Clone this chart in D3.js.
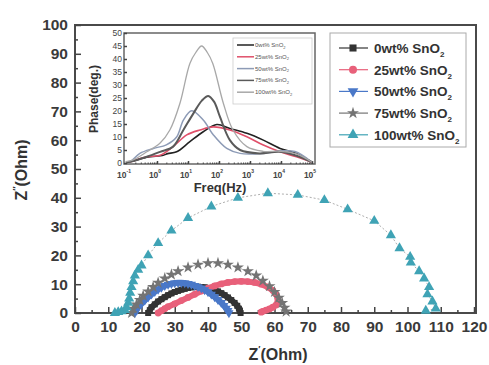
<!DOCTYPE html>
<html>
<head>
<meta charset="utf-8">
<script src="https://d3js.org/d3.v7.min.js"></script>
<style>
    body { margin: 0; background: #fff; }
    svg { display: block; font-family: "Liberation Sans", Arial, sans-serif; }
</style>
</head>
<body>
<script>

    var width = 489,
        height = 365;

    // Nyquist data, [Z' (Ohm), Z'' (Ohm)]
    var nyq0 = [[22,0],[22.5,1],[23,2],[24,3],[25,4],[26,4.8],[27,5.5],[28,6.2],[29,6.8],[30,7.3],[31,7.7],[32,8.1],
        [33,8.4],[34,8.7],[35,8.9],[36,9],[37,9.1],[38,9],[39,8.9],[40,8.7],[41,8.4],[42,8],[43,7.5],[44,6.9],
        [45,6.2],[46,5.4],[47,4.5],[48,3.5],[48.8,2.5],[49.3,1.5],[49.6,0.7],[49.8,0]];
    var nyq25 = [[25,0],[26,0.8],[27,1.5],[28,2.2],[30,3.2],[32,4.3],[34,5.4],[36,6.5],[38,7.6],[40,8.6],[42,9.4],
        [44,10.1],[46,10.6],[48,10.9],[50,11],[52,10.9],[54,10.6],[56,10],[58,9],[59.5,7.8],[60.5,6.5],[61,5],
        [61,3.8],[60.5,2.8],[59.5,2],[58.5,1.4],[57.5,1],[56.5,0.6],[56,0.3]];
    var nyq50 = [[18,0],[18.5,1],[19,2],[20,3.2],[21,4.4],[22,5.5],[23,6.5],[24,7.4],[25,8.2],[26,8.9],[27,9.5],
        [28,9.9],[29,10.2],[30,10.4],[31,10.5],[32,10.5],[33,10.4],[34,10.2],[35,9.9],[36,9.5],[37,9.1],[38,8.6],
        [39,8],[40,7.3],[41,6.5],[42,5.6],[43,4.6],[44,3.6],[44.8,2.6],[45.5,1.6],[46,0.8],[46.3,0]];
    var nyq75 = [[17,0],[17.5,1.5],[18.5,3],[19.5,4.5],[20.5,6],[22,7.5],[23.5,9],[25,10.5],[27,12],[29,13.3],
        [31,14.5],[34,15.8],[37,16.8],[40,17.3],[43,17.3],[46,16.8],[49,15.8],[52,14.5],[54.5,13],[56.5,11.2],
        [58.5,9.3],[60,7.3],[61.3,5.3],[62.3,3.5],[63,1.8],[63.5,0.5]];
    var nyq100 = [[12,0],[13,0.3],[14,0.6],[15,1],[15.5,2],[16,3.5],[16.3,5],[16.6,7],[17,9],[17.5,11],[18,13],
        [19,15],[20,16.5],[22,20],[25,24.3],[29,28.6],[34,33],[41,37],[49,40],[58,41.6],[67,41],[75,39.2],
        [82,36],[90,32],[95,27],[97.6,22.5],[100.8,19.5],[101,17.5],[103.5,14.5],[105,12],[106.5,9],[106,6.5],
        [107.5,4],[108.5,1.5],[105.5,0.8]];

    // inset Bode phase data, [freq (Hz), phase (deg.)]
    var ph0 = [[0.1,0.3],[0.135,0.5],[0.47,2.2],[1.6,3],[2.2,3.6],[4.3,4.3],[11.5,8.2],[31,12],[85,14.8],
        [224,13.3],[794,11.4],[2690,8.8],[9330,5.6],[31600,3.7],[100000,0.3]];
    var ph25 = [[0.1,0.3],[0.135,0.5],[0.47,2.4],[1.26,3],[3.3,6.3],[9.1,10.8],[24.5,12.7],[66,13.9],[224,12.7],
        [794,10.1],[2690,6.9],[9330,4.3],[31600,2.4],[100000,0.3]];
    var ph50 = [[0.1,0.3],[0.135,0.5],[0.28,3.7],[0.76,5.6],[2,7],[4.3,10],[7.1,16.5],[13.2,20.1],[31,16.5],
        [66,10.8],[178,5.6],[479,3.7],[2630,3.7],[9330,4.6],[28200,4.4],[100000,0.3]];
    var ph75 = [[0.1,0.3],[0.135,0.5],[0.47,2.4],[1.26,4.3],[3.3,6.3],[7.1,12.7],[14.8,19],[28,24],[45,25.8],
        [70,23.5],[107,17.8],[224,8.8],[479,5],[2000,3.7],[9330,4.3],[39800,2.4],[100000,0.3]];
    var ph100 = [[0.1,0.5],[0.17,1.2],[0.47,4.3],[1.26,7.7],[2.6,12.7],[5.5,23],[11.5,38.3],[17.8,42.5],[27.5,45],
        [42,42.5],[63,38.3],[138,23],[282,12.7],[794,6.3],[2630,4.5],[9330,4.5],[31600,3.5],[100000,0.3]];

    var names = ["0wt% SnO", "25wt% SnO", "50wt% SnO", "75wt% SnO", "100wt% SnO"];
    var colors = ["#333333", "#e8607a", "#4a78c8", "#747474", "#3fa3b5"];
    var insetColors = ["#222222", "#e0506a", "#8d9bb6", "#5a5a5a", "#a8a8a8"];
    var xTicks = [0, 10, 20, 30, 40, 50, 60, 70, 80, 90, 100, 110, 120];
    var yTicks = [0, 10, 20, 30, 40, 50, 60, 70, 80, 90, 100];
    var phaseTicks = [0, 5, 10, 15, 20, 25, 30, 35, 40, 45, 50];
    var decades = [-1, 0, 1, 2, 3, 4, 5];

    var svg = d3.select("body")
        .append("svg")
        .attr("width", width)
        .attr("height", height);

    var x = d3.scaleLinear().domain([0, 120]).range([75, 474]);
    var y = d3.scaleLinear().domain([0, 100]).range([313, 25]);

    // frame
    svg.append("rect")
        .attr("x", 75).attr("y", 25).attr("width", 401).attr("height", 288)
        .attr("fill", "none").attr("stroke", "#4a4a4a").attr("stroke-width", 2);

    function styleAxis(g, size) {
        g.select(".domain").remove();
        g.selectAll("line").attr("stroke", "#444").attr("stroke-width", 1.5);
        g.selectAll("text").attr("fill", "#3a3a3a").attr("font-size", size).attr("font-weight", "bold");
    }

    var gx = svg.append("g").attr("transform", "translate(0,313)")
        .call(d3.axisBottom(x).tickValues(xTicks).tickSize(-6).tickPadding(8));
    styleAxis(gx, 15.5);
    var gxm = svg.append("g").attr("transform", "translate(0,313)")
        .call(d3.axisBottom(x).tickValues(d3.range(5, 120, 10)).tickSize(-3).tickFormat(""));
    styleAxis(gxm, 15);

    var gy = svg.append("g").attr("transform", "translate(75,0)")
        .call(d3.axisLeft(y).tickValues(yTicks).tickSize(-6).tickPadding(7));
    styleAxis(gy, 15.5);
    var gym = svg.append("g").attr("transform", "translate(75,0)")
        .call(d3.axisLeft(y).tickValues(d3.range(5, 100, 10)).tickSize(-3).tickFormat(""));
    styleAxis(gym, 15);

    // axis titles
    var xt = svg.append("text").attr("x", 278).attr("y", 360).attr("text-anchor", "middle")
        .attr("font-size", 16).attr("font-weight", "bold").attr("fill", "#333");
    xt.append("tspan").text("Z");
    xt.append("tspan").attr("font-size", 9).attr("dy", -8).text("\u2032");
    xt.append("tspan").attr("dy", 8).text("(Ohm)");

    var yt = svg.append("text").attr("transform", "translate(27,170) rotate(-90)").attr("text-anchor", "middle")
        .attr("font-size", 16).attr("font-weight", "bold").attr("fill", "#333");
    yt.append("tspan").text("Z");
    yt.append("tspan").attr("font-size", 9).attr("dy", -8).text("\u2033");
    yt.append("tspan").attr("dy", 8).text("(Ohm)");

    // Nyquist series
    function drawSeries(data, color, sym, size, rot, lineW, lineColor, dash) {
        var g = svg.append("g");
        g.append("path").datum(data)
            .attr("d", d3.line().x(function (d) { return x(d[0]); }).y(function (d) { return y(d[1]); }))
            .attr("fill", "none").attr("stroke", lineColor).attr("stroke-width", lineW)
            .attr("stroke-linejoin", "round").attr("stroke-dasharray", dash);
        g.selectAll("path.m").data(data).enter().append("path").attr("class", "m")
            .attr("d", d3.symbol(sym, size))
            .attr("transform", function (d) { return "translate(" + x(d[0]) + "," + y(d[1]) + ") rotate(" + rot + ")"; })
            .attr("fill", color);
    }

    drawSeries(nyq0, colors[0], d3.symbolSquare, 36, 0, 6, colors[0], null);
    drawSeries(nyq25, colors[1], d3.symbolCircle, 36, 0, 6, colors[1], null);
    drawSeries(nyq50, colors[2], d3.symbolTriangle, 36, 180, 6, colors[2], null);
    drawSeries(nyq75, colors[3], d3.symbolStar, 45, 0, 0.8, "#999", "2,2");
    drawSeries(nyq100, colors[4], d3.symbolTriangle, 45, 0, 0.8, "#999", "2,2");

    // main legend
    var lg = svg.append("g");
    lg.append("rect").attr("x", 330).attr("y", 33).attr("width", 136).attr("height", 114)
        .attr("fill", "#fff").attr("stroke", "#aaa").attr("stroke-width", 1);
    var legSyms = [[d3.symbolSquare, 0, 50], [d3.symbolCircle, 0, 50], [d3.symbolTriangle, 180, 50],
        [d3.symbolStar, 0, 45], [d3.symbolTriangle, 0, 50]];
    names.forEach(function (n, i) {
        var yy = 48 + i * 21.7;
        lg.append("line").attr("x1", 339).attr("x2", 368).attr("y1", yy).attr("y2", yy)
            .attr("stroke", colors[i]).attr("stroke-width", 1.2);
        lg.append("path").attr("d", d3.symbol(legSyms[i][0], legSyms[i][2]))
            .attr("transform", "translate(353," + yy + ") rotate(" + legSyms[i][1] + ")")
            .attr("fill", colors[i]);
        var t = lg.append("text").attr("x", 374).attr("y", yy + 5)
            .attr("font-size", 13.5).attr("font-weight", "bold").attr("fill", "#333");
        t.append("tspan").text(n);
        t.append("tspan").attr("font-size", 8).attr("dy", 4).text("2");
    });

    // inset
    var ix = d3.scaleLog().domain([0.1, 100000]).range([126, 312]);
    var iy = d3.scaleLinear().domain([0, 50]).range([163, 33]);

    svg.append("rect").attr("x", 124).attr("y", 33).attr("width", 191).attr("height", 131)
        .attr("fill", "#fff").attr("stroke", "#666").attr("stroke-width", 1.5);

    var igx = svg.append("g").attr("transform", "translate(0,164)")
        .call(d3.axisBottom(ix).tickValues(decades.map(function (e) { return Math.pow(10, e); }))
            .tickSize(-3).tickFormat(""));
    styleAxis(igx, 8);
    var igxm = svg.append("g").attr("transform", "translate(0,164)")
        .call(d3.axisBottom(ix).ticks(10).tickSize(-1.5).tickFormat(""));
    styleAxis(igxm, 8);
    igxm.selectAll("line").attr("stroke-width", 1);

    decades.forEach(function (e) {
        var t = svg.append("text").attr("x", ix(Math.pow(10, e)) - 2).attr("y", 178)
            .attr("text-anchor", "middle").attr("font-size", 8.5).attr("font-weight", "bold").attr("fill", "#444");
        t.append("tspan").text("10");
        t.append("tspan").attr("font-size", 5).attr("dy", -5).text(e < 0 ? "-" + (-e) : e);
    });

    var igy = svg.append("g").attr("transform", "translate(124,0)")
        .call(d3.axisLeft(iy).tickValues(phaseTicks).tickSize(-3).tickPadding(2));
    styleAxis(igy, 8.5);
    igy.selectAll("text").attr("font-weight", "normal").attr("fill", "#444");

    svg.append("text").attr("x", 220).attr("y", 192).attr("text-anchor", "middle")
        .attr("font-size", 13).attr("font-weight", "bold").attr("fill", "#333").text("Freq(Hz)");
    svg.append("text").attr("transform", "translate(98,99) rotate(-90)").attr("text-anchor", "middle")
        .attr("font-size", 12).attr("font-weight", "bold").attr("fill", "#333").text("Phase(deg.)");

    var phases = [ph0, ph25, ph50, ph75, ph100];
    var phWidths = [1.6, 1.6, 1.5, 2, 1.3];
    var phLine = d3.line().curve(d3.curveCatmullRom)
        .x(function (d) { return ix(d[0]); }).y(function (d) { return iy(d[1]); });
    phases.forEach(function (p, i) {
        svg.append("path").datum(p).attr("d", phLine)
            .attr("fill", "none").attr("stroke", insetColors[i]).attr("stroke-width", phWidths[i]);
    });

    // inset legend
    var il = svg.append("g");
    il.append("rect").attr("x", 233).attr("y", 38).attr("width", 79).attr("height", 66)
        .attr("fill", "#fff").attr("stroke", "#ccc").attr("stroke-width", 0.8);
    names.forEach(function (n, i) {
        var yy = 45 + i * 11.8;
        il.append("line").attr("x1", 237).attr("x2", 254).attr("y1", yy).attr("y2", yy)
            .attr("stroke", insetColors[i]).attr("stroke-width", 1.5);
        var t = il.append("text").attr("x", 255).attr("y", yy + 2)
            .attr("font-size", 6).attr("fill", "#555");
        t.append("tspan").text(n);
        t.append("tspan").attr("font-size", 4).attr("dy", 1.5).text("2");
    });

</script>
</body>
</html>
